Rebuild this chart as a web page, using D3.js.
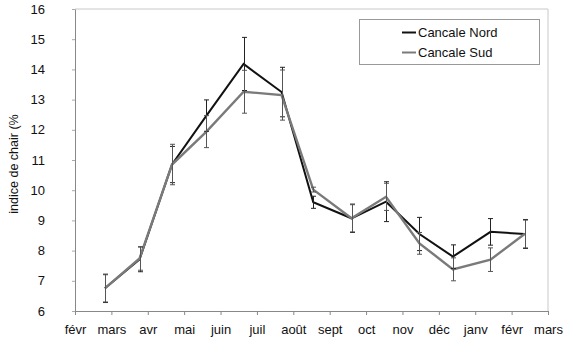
<!DOCTYPE html>
<html>
<head>
<meta charset="utf-8">
<script src="https://cdn.jsdelivr.net/npm/d3@7"></script>
<style>
  html, body { margin: 0; padding: 0; background: #fff; }
  svg { display: block; font-family: "Liberation Sans", Arial, sans-serif; }
</style>
</head>
<body>
<svg id="chart" width="565" height="345"></svg>
<script>
// Month labels along the time axis (one per month, Feb to Mar of the following year)
const monthLabels = ["févr", "mars", "avr", "mai", "juin", "juil", "août", "sept", "oct", "nov", "déc", "janv", "févr", "mars"];
const axisStart = "2001-02-01";

// Sampling dates
const sampleDates = ["2001-02-24", "2001-03-25", "2001-04-21", "2001-05-20", "2001-06-20", "2001-07-22",
                     "2001-08-18", "2001-09-19", "2001-10-18", "2001-11-15", "2001-12-13", "2002-01-14", "2002-02-11"];

// Condition index (%) and error bars
const nordValues = [6.75, 7.71, 10.85, 12.47, 14.18, 13.25, 9.60, 9.07, 9.62, 8.55, 7.80, 8.62, 8.55];
const nordErrors = [0.47, 0.41, 0.60, 0.52, 0.88, 0.82, 0.20, 0.47, 0.66, 0.55, 0.39, 0.44, 0.48];
const sudValues  = [6.75, 7.74, 10.85, 11.94, 13.26, 13.15, 10.02, 9.07, 9.78, 8.24, 7.38, 7.70, 8.55];
const sudErrors  = [0.45, 0.39, 0.67, 0.53, 0.71, 0.83, 0.08, 0.45, 0.45, 0.36, 0.38, 0.39, 0.46];

const seriesNames = ["Cancale Nord", "Cancale Sud"];
const yTicks = [6, 7, 8, 9, 10, 11, 12, 13, 14, 15, 16];

const svg = d3.select("#chart");
const margin = { left: 75, right: 17, top: 9, bottom: 34 };
const W = 565, H = 345;

// Fractional month position of a date, counted from the axis start
const parse = d3.utcParse("%Y-%m-%d");
const start = parse(axisStart);
function monthPos(date) {
  const m0 = d3.utcMonth.floor(date);
  const m1 = d3.utcMonth.offset(m0, 1);
  return d3.utcMonth.count(start, m0) + (date - m0) / (m1 - m0);
}

const x = d3.scaleLinear()
  .domain([0, monthLabels.length - 1])
  .range([margin.left, W - margin.right]);
const y = d3.scaleLinear()
  .domain([6, 16])
  .range([H - margin.bottom, margin.top]);

// Plot frame (top and right edges)
svg.append("path")
  .attr("d", `M${x(0)},${y(16)}H${x(13)}V${y(6)}`)
  .attr("fill", "none").attr("stroke", "#c8c8c8").attr("stroke-width", 1);

// Axes
const xAxis = d3.axisBottom(x)
  .tickValues(d3.range(monthLabels.length))
  .tickFormat(i => monthLabels[i])
  .tickSizeInner(4).tickSizeOuter(0).tickPadding(10);
const gx = svg.append("g").attr("transform", `translate(0,${y(6)})`).call(xAxis);
gx.select(".domain").attr("stroke", "#888");
gx.selectAll(".tick line").attr("stroke", "#888");
gx.selectAll("text").attr("font-size", 13).attr("fill", "#111")
  .attr("font-family", "Liberation Sans, Arial, sans-serif");

const yAxis = d3.axisLeft(y)
  .tickValues(yTicks)
  .tickSizeInner(3).tickSizeOuter(0).tickPadding(27);
const gy = svg.append("g").attr("transform", `translate(${x(0)},0)`).call(yAxis);
gy.select(".domain").attr("stroke", "#888");
gy.selectAll(".tick line").attr("stroke", "#aaa");
gy.selectAll("text").attr("font-size", 13).attr("fill", "#111")
  .attr("font-family", "Liberation Sans, Arial, sans-serif");

// Axis title
svg.append("text")
  .attr("transform", `translate(18,${(y(6) + y(16)) / 2 + 4}) rotate(-90)`)
  .attr("text-anchor", "middle")
  .attr("font-size", 12.5).attr("fill", "#111")
  .text("indice de chair (%");

// Series
const xs = sampleDates.map(s => monthPos(parse(s)));
const series = [
  { name: seriesNames[0], values: nordValues, errors: nordErrors, color: "#111111", bar: "#222222", width: 2 },
  { name: seriesNames[1], values: sudValues, errors: sudErrors, color: "#7a7a7a", bar: "#555555", width: 2.4 }
];

const line = d3.line().x(d => x(d[0])).y(d => y(d[1]));

// Lines (north first, south drawn over it where they coincide)
series.forEach(s => {
  svg.append("path")
    .datum(xs.map((v, i) => [v, s.values[i]]))
    .attr("d", line)
    .attr("fill", "none")
    .attr("stroke", s.color)
    .attr("stroke-width", s.width)
    .attr("stroke-linejoin", "miter");
});

// Error bars
series.forEach(s => {
  const g = svg.append("g").attr("stroke", s.bar).attr("stroke-width", 1).attr("fill", "none");
  xs.forEach((v, i) => {
    const cx = Math.round(x(v)) + 0.5;
    const top = y(s.values[i] + s.errors[i]);
    const bot = y(s.values[i] - s.errors[i]);
    g.append("path").attr("d", `M${cx},${top}V${bot}M${cx - 2.5},${top}H${cx + 2.5}M${cx - 2.5},${bot}H${cx + 2.5}`);
  });
});

// Legend
const lg = svg.append("g");
lg.append("rect")
  .attr("x", 359.5).attr("y", 19.5).attr("width", 180).attr("height", 45)
  .attr("fill", "#fff").attr("stroke", "#999").attr("stroke-width", 1);
series.forEach((s, i) => {
  const ly = 32.5 + i * 20;
  lg.append("line")
    .attr("x1", 402).attr("x2", 416).attr("y1", ly).attr("y2", ly)
    .attr("stroke", s.color).attr("stroke-width", 2);
  lg.append("text")
    .attr("x", 418).attr("y", ly + 4.5)
    .attr("font-size", 13).attr("fill", "#111")
    .text(s.name);
});
</script>
</body>
</html>
